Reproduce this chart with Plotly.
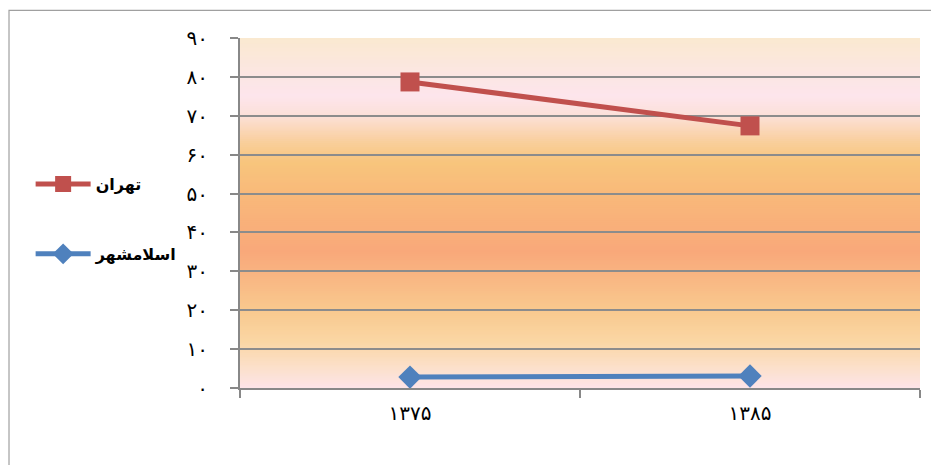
import numpy as np
import plotly.graph_objects as go

categories = ["۱۳۷۵", "۱۳۸۵"]
tehran = [78.7, 67.4]
eslamshahr = [2.8, 3.1]
ytick_vals = [0, 10, 20, 30, 40, 50, 60, 70, 80, 90]
ytick_text = ["۰", "۱۰", "۲۰", "۳۰", "۴۰", "۵۰", "۶۰", "۷۰", "۸۰", "۹۰"]

FONT = "DejaVu Sans"

fig = go.Figure()
fig.add_trace(go.Scatter(
    x=categories, y=tehran, name="تهران", mode="lines+markers",
    line=dict(color="#C0504D", width=5),
    marker=dict(symbol="square", size=19, color="#C0504D"),
    legendgroup="a"))
fig.add_trace(go.Scatter(
    x=categories, y=eslamshahr, name="اسلامشهر", mode="lines+markers",
    line=dict(color="#4F81BD", width=5),
    marker=dict(symbol="diamond", size=18, color="#4F81BD"),
    legendgroup="b"))

# gradient background
stops = [(0, "#FDE4E8"), (5, "#FCE0CC"), (12, "#FAD6A4"), (20, "#F9C98E"),
         (35, "#F9A87A"), (50, "#F9B97A"), (58, "#F8C57C"), (63, "#F9CE9A"),
         (70, "#FCE0D8"), (75, "#FDE5EC"), (80, "#FCE6E4"), (90, "#FAE9D0")]
def hx(c):
    return np.array([int(c[i:i + 2], 16) for i in (1, 3, 5)], dtype=float)
sv = np.array([s[0] for s in stops], dtype=float)
sc = np.array([hx(s[1]) for s in stops])
edges = np.linspace(0, 90, 181)
shapes = []
for i in range(len(edges) - 1):
    m = 0.5 * (edges[i] + edges[i + 1])
    col = [np.interp(m, sv, sc[:, k]) for k in range(3)]
    shapes.append(dict(type="rect", xref="paper", yref="y", x0=0, x1=1,
                       y0=edges[i], y1=edges[i + 1] + 0.3, layer="below",
                       line=dict(width=0),
                       fillcolor="rgb(%d,%d,%d)" % tuple(int(round(v)) for v in col)))
# outer chart frame
shapes.append(dict(type="rect", xref="paper", yref="paper", x0=-0.3397, x1=1.022,
                   y0=-0.25, y1=1.079, line=dict(color="#A0A0A0", width=1.2),
                   fillcolor="rgba(0,0,0,0)", layer="below"))

fig.update_layout(
    width=931, height=457,
    margin=dict(l=232, r=19, t=30, b=77),
    paper_bgcolor="white", plot_bgcolor="rgba(0,0,0,0)",
    shapes=shapes,
    showlegend=True,
    legend=dict(x=-0.3079, y=0.631, xanchor="left", yanchor="top",
                font=dict(family=FONT, size=16, color="black", weight="bold"),
                itemwidth=55, tracegroupgap=46, bgcolor="rgba(0,0,0,0)",
                traceorder="grouped"),
    xaxis=dict(type="category", range=[-0.5, 1.5], showgrid=False,
               tickson="boundaries", ticks="outside", ticklen=8, tickcolor="#888888",
               tickwidth=1.5, showline=True, linecolor="#888888", linewidth=2,
               ticklabelstandoff=6,
               tickfont=dict(family=FONT, size=20, color="black"), zeroline=False),
    yaxis=dict(range=[0, 90], tickvals=ytick_vals, ticktext=ytick_text,
               showgrid=True, gridcolor="#8C8C8C", gridwidth=1.5,
               ticks="outside", ticklen=8, tickcolor="#888888", tickwidth=1.5,
               showline=True, linecolor="#888888", linewidth=2,
               ticklabelstandoff=18,
               tickfont=dict(family=FONT, size=20, color="black"), zeroline=False),
)
fig.write_html("out.html")
